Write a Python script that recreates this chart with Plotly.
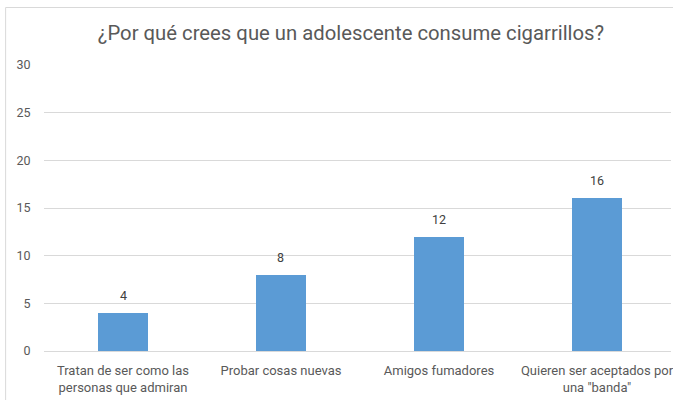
import plotly.graph_objects as go

categories = ["Tratan de ser como las<br>personas que admiran", "Probar cosas nuevas",
              "Amigos fumadores", "Quieren ser aceptados por<br>una \"banda\""]
values = [4, 8, 12, 16]
y_ticks = [0, 5, 10, 15, 20, 25, 30]
title = "¿Por qué crees que un adolescente consume cigarrillos?"

xs = list(range(len(categories)))
fig = go.Figure(go.Bar(
    x=xs, y=values,
    marker=dict(color="#5B9BD5", line=dict(width=0)),
    width=0.32,
))

L, T, B = 44, 65, 49
W, H = 673, 400
pw = W - L
ph = H - T - B

annotations = [dict(x=x, y=v, xref="x", yref="y", text=str(v), showarrow=False,
                    yanchor="bottom", yshift=8,
                    font=dict(family="Roboto", size=12.5, color="#404040"))
               for x, v in zip(xs, values)]

fig.update_layout(
    width=W, height=H,
    margin=dict(l=L, r=0, t=T, b=B, pad=0),
    paper_bgcolor="white", plot_bgcolor="white",
    title=dict(text=title, x=(351) / W, xanchor="center", y=1 - 33 / H, yanchor="middle",
               font=dict(family="Roboto", size=20.3, color="#595959")),
    showlegend=False,
    bargap=0,
    annotations=annotations,
    xaxis=dict(range=[-0.5, 3.5 - 5 / 158.5], tickvals=xs,
               ticktext=categories, showgrid=False, zeroline=False, showline=False,
               ticks="outside", ticklen=7, tickcolor="rgba(0,0,0,0)",
               ticklabeloverflow="allow",
               tickfont=dict(family="Roboto", size=13, color="#595959")),
    yaxis=dict(range=[0, 30], tickvals=y_ticks, showgrid=True, gridcolor="#D9D9D9", gridwidth=1,
               zeroline=True, zerolinecolor="#D9D9D9", zerolinewidth=1, showline=False,
               ticks="outside", ticklen=10, tickcolor="rgba(0,0,0,0)",
               tickfont=dict(family="Roboto", size=12.5, color="#595959")),
    shapes=[dict(type="rect", xref="paper", yref="paper",
                 x0=(5.5 - L) / pw, x1=(W + 20 - L) / pw,
                 y0=(H - B - (H + 20)) / ph, y1=(H - B - 7.5) / ph,
                 line=dict(color="#D9D9D9", width=1), fillcolor="rgba(0,0,0,0)", layer="below")],
)

fig.write_html("out.html")
